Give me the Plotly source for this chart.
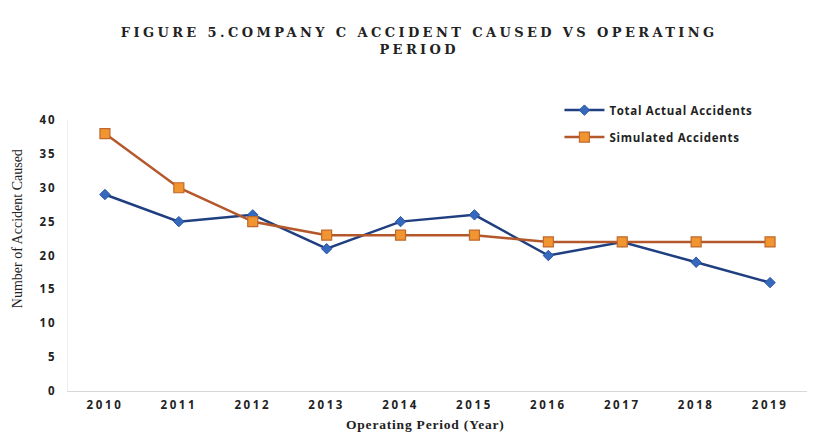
import plotly.graph_objects as go

years = ["2010", "2011", "2012", "2013", "2014", "2015", "2016", "2017", "2018", "2019"]
actual_accidents = [29, 25, 26, 21, 25, 26, 20, 22, 19, 16]
simulated_accidents = [38, 30, 25, 23, 23, 23, 22, 22, 22, 22]
y_ticks = [0, 5, 10, 15, 20, 25, 30, 35, 40]


def spaced(text, px):
    return f'<span style="letter-spacing:{px}px">{text}</span>'


fig = go.Figure()

fig.add_trace(go.Scatter(
    x=years, y=actual_accidents, name=spaced("Total Actual Accidents", 0.7),
    legendgroup="actual",
    mode="lines+markers",
    line=dict(color="#1F3F80", width=2.5),
    marker=dict(symbol="diamond", size=8, color="#3469BE",
                line=dict(color="#2A55A0", width=1)),
))
fig.add_trace(go.Scatter(
    x=years, y=simulated_accidents, name=spaced("Simulated Accidents", 0.7),
    legendgroup="simulated",
    mode="lines+markers",
    line=dict(color="#B4582C", width=2.5),
    marker=dict(symbol="square", size=10, color="#F0952F",
                line=dict(color="#C0682C", width=1.2)),
))

title_text = (
    spaced("FIGURE 5.COMPANY C ACCIDENT CAUSED VS OPERATING", 3.4)
    + "<br>" + spaced("PERIOD", 3.4)
)

fig.update_layout(
    width=814, height=447,
    margin=dict(l=68, r=7, t=120, b=56),
    paper_bgcolor="white", plot_bgcolor="white",
    title=dict(
        text=title_text,
        x=0.515, xanchor="center", y=0.918, yanchor="top",
        font=dict(family="DejaVu Serif", size=13, color="#222222", weight="bold"),
    ),
    legend=dict(
        x=0.665, y=1.09, xanchor="left", yanchor="top",
        bgcolor="rgba(0,0,0,0)",
        font=dict(family="Open Sans", size=11.5, color="#222222", weight="bold"),
        itemwidth=40, tracegroupgap=8,
    ),
    showlegend=True,
    annotations=[
        dict(text=spaced("Operating Period (Year)", 0.8),
             xref="paper", yref="paper", x=0.484, y=-0.125,
             xanchor="center", yanchor="middle", showarrow=False,
             font=dict(family="Liberation Serif", size=13.5, color="#222222", weight="bold")),
        dict(text="Number of Accident Caused",
             xref="paper", yref="paper", x=-0.068, y=0.60, textangle=-90,
             xanchor="center", yanchor="middle", showarrow=False,
             font=dict(family="Liberation Serif", size=14, color="#222222")),
    ],
)

fig.update_xaxes(
    type="category", range=[-0.5, 9.5],
    tickvals=years, ticktext=[spaced(y, 2.6) for y in years],
    showgrid=False, showline=True, linecolor="#D8D8D8", linewidth=1,
    ticks="", ticklabelstandoff=3,
    tickfont=dict(family="Open Sans", size=11.5, color="#222222", weight="bold"),
)
fig.update_yaxes(
    range=[0, 40], tickvals=y_ticks, ticktext=[spaced(str(v), 2) for v in y_ticks],
    showgrid=False, showline=True, linecolor="#EEEEEE", linewidth=1,
    zeroline=False, ticks="", ticklabelstandoff=8,
    tickfont=dict(family="Open Sans", size=11.5, color="#222222", weight="bold"),
)

fig.write_html("out.html")
